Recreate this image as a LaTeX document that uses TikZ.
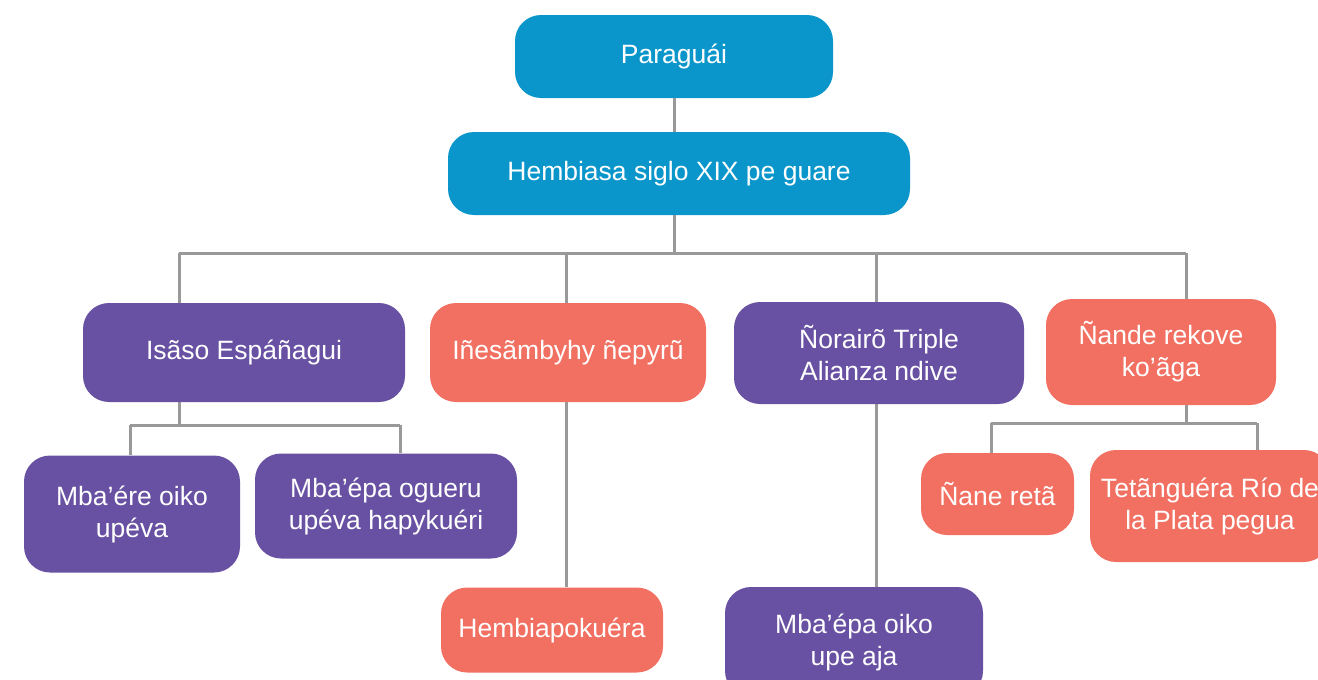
\documentclass[tikz,border=0pt]{standalone}
\usepackage{fontspec}
\setmainfont{Liberation Sans}
\definecolor{azul}{RGB}{10,150,203}
\definecolor{lila}{RGB}{104,81,162}
\definecolor{coral}{RGB}{242,112,98}
\definecolor{gris}{RGB}{153,153,153}
\tikzset{
    caja/.style={rounded corners=26pt, text=white, align=center, inner sep=0pt,
        font=\fontsize{26.5}{32}\selectfont},
    cajaazul/.style={caja, fill=azul},
    cajalila/.style={caja, fill=lila},
    cajacoral/.style={caja, fill=coral},
    linea/.style={gris, line width=3pt}
}
\begin{document}
\begin{tikzpicture}[x=1pt,y=-1pt]
    \useasboundingbox (0,0) rectangle (1318,680);
    \clip (0,0) rectangle (1318,680);
    % cajas
    \node[cajaazul, minimum width=318pt, minimum height=83pt] (paraguai) at (674,56.5) {Paraguái};
    \node[cajaazul, minimum width=462pt, minimum height=83pt] (hembiasa) at (679,173.5) {Hembiasa siglo XIX pe guare};
    \node[cajalila, minimum width=322pt, minimum height=99pt] (isaso) at (244,352.5) {Isãso Espáñagui};
    \node[cajacoral, minimum width=276pt, minimum height=99pt] (nepyru) at (568,352.5) {Iñesãmbyhy ñepyrũ};
    \node[cajalila, minimum width=290pt, minimum height=102pt] (norairo) at (879,353) {Ñorairõ Triple\\Alianza ndive};
    \node[cajacoral, minimum width=230pt, minimum height=106pt] (rekove) at (1161,352) {Ñande rekove\\ko’ãga};
    \node[cajalila, minimum width=216pt, minimum height=117pt] (mbaere) at (132,514) {Mba’ére oiko\\upéva};
    \node[cajalila, minimum width=262pt, minimum height=105pt] (mbaepa) at (386,506) {Mba’épa ogueru\\upéva hapykuéri};
    \node[cajacoral, minimum width=222pt, minimum height=85pt] (hembiapo) at (552,630) {Hembiapokuéra};
    \node[cajalila, minimum width=258pt, minimum height=110pt] (oiko) at (854,642) {Mba’épa oiko\\upe aja};
    \node[cajacoral, minimum width=153pt, minimum height=82pt] (reta) at (997.5,494) {Ñane retã};
    \node[cajacoral, minimum width=240pt, minimum height=112pt] (plata) at (1210,506) {Tetãnguéra Río de\\la Plata pegua};
    % puntos de union
    \coordinate (barra) at (674,253);
    \coordinate (b1) at (179,253);
    \coordinate (b2) at (566,253);
    \coordinate (b3) at (876,253);
    \coordinate (b4) at (1186,253);
    \coordinate (c1) at (130,425);
    \coordinate (c2) at (400,425);
    \coordinate (d1) at (991,423);
    \coordinate (d2) at (1257,423);
    % lineas
    \draw[linea] (paraguai.south -| barra) -- (hembiasa.north -| barra);
    \draw[linea] (hembiasa.south -| barra) -- (barra);
    \draw[linea] (b1) -- (b4);
    \draw[linea] (b1) -- (b1 |- isaso.north);
    \draw[linea] (b2) -- (b2 |- nepyru.north);
    \draw[linea] (b3) -- (b3 |- norairo.north);
    \draw[linea] (b4) -- (b4 |- rekove.north);
    \draw[linea] (isaso.south -| b1) -- (b1 |- c1);
    \draw[linea] (c1) -- (c2);
    \draw[linea] (c1) -- (c1 |- mbaere.north);
    \draw[linea] (c2) -- (c2 |- mbaepa.north);
    \draw[linea] (nepyru.south -| b2) -- (b2 |- hembiapo.north);
    \draw[linea] (norairo.south -| b3) -- (b3 |- oiko.north);
    \draw[linea] (rekove.south -| b4) -- (b4 |- d1);
    \draw[linea] (d1) -- (d2);
    \draw[linea] (d1) -- (d1 |- reta.north);
    \draw[linea] (d2) -- (d2 |- plata.north);
\end{tikzpicture}
\end{document}
